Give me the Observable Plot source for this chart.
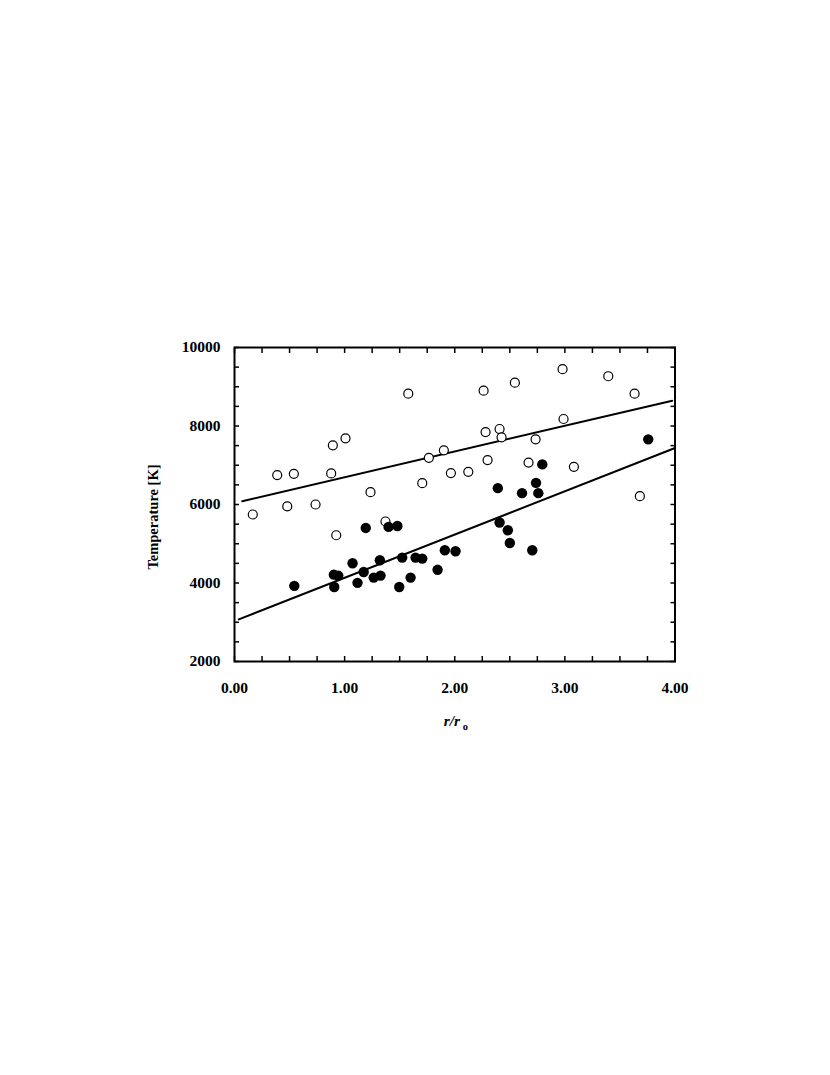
<!DOCTYPE html>
<html>
<head>
<meta charset="utf-8">
<script src="https://cdn.jsdelivr.net/npm/d3@7"></script>
<script src="https://cdn.jsdelivr.net/npm/@observablehq/plot@0.6"></script>
<style>
  html, body { margin: 0; padding: 0; background: #fff; }
  svg { display: block; }
</style>
</head>
<body>
<div id="chart"></div>
<script>
// Open circles (upper series)
const openR = [0.166,0.388,0.539,0.479,0.736,0.878,0.893,1.008,0.924,1.235,1.371,1.578,1.765,1.901,1.705,1.965,2.123,2.262,2.280,2.407,2.425,2.298,2.546,2.670,2.734,2.979,2.988,3.082,3.394,3.633,3.681];
const openT = [5745,6749,6782,5950,6000,6792,7507,7686,5217,6315,5567,8824,7190,7379,6544,6800,6833,8901,7846,7923,7711,7132,9105,7068,7660,9447,8178,6961,9268,8824,6212];
// Filled circles (lower series)
const fillR = [0.543,0.902,0.942,0.906,1.072,1.117,1.173,1.264,1.320,1.326,1.496,1.192,1.399,1.479,1.523,1.599,1.644,1.705,1.844,1.910,2.007,2.391,2.407,2.482,2.500,2.611,2.704,2.738,2.759,2.795,3.757];
const fillT = [3928,4213,4188,3897,4502,4004,4280,4137,4579,4188,3897,5403,5429,5452,4647,4137,4647,4622,4336,4834,4808,6417,5541,5344,5020,6289,4834,6552,6289,7022,7660];
// Fitted lines (end points)
const upperLineR = [0.07, 3.975];
const upperLineT = [6085, 8645];
const lowerLineR = [0.039, 4.0];
const lowerLineT = [3072, 7440];
// Ticks
const xLabelTicks = [0, 1, 2, 3, 4];
const xMinorTicks = d3.range(0, 4.001, 0.25);
const yLabelTicks = [2000, 4000, 6000, 8000, 10000];
const yMinorTicks = d3.range(2000, 10001, 500);
const yTitle = "Temperature [K]";
const xTitleMain = "r/r";
const xTitleSub = "o";

const openData = openR.map((r, i) => ({r, t: openT[i]}));
const fillData = fillR.map((r, i) => ({r, t: fillT[i]}));
const upperLine = upperLineR.map((r, i) => ({r, t: upperLineT[i]}));
const lowerLine = lowerLineR.map((r, i) => ({r, t: lowerLineT[i]}));

const font = "'Liberation Serif', 'Times New Roman', serif";

const chart = Plot.plot({
  width: 830,
  height: 1075,
  marginLeft: 234,
  marginRight: 155.5,
  marginTop: 347,
  marginBottom: 414,
  style: {fontFamily: font, fontSize: "15.5px", fontWeight: "bold", color: "#000", background: "#fff"},
  x: {domain: [0, 4]},
  y: {domain: [2000, 10000]},
  marks: [
    // inward ticks
    Plot.axisX(xMinorTicks, {anchor: "bottom", tickSize: -5, text: null, strokeWidth: 1.5, label: null}),
    Plot.axisX(xMinorTicks, {anchor: "top", tickSize: -5, text: null, strokeWidth: 1.5, label: null}),
    Plot.axisY(yMinorTicks, {anchor: "left", tickSize: -5, text: null, strokeWidth: 1.5, label: null}),
    Plot.axisY(yMinorTicks, {anchor: "right", tickSize: -5, text: null, strokeWidth: 1.5, label: null}),
    // labels
    Plot.axisX(xLabelTicks, {anchor: "bottom", tickSize: 0, tickPadding: 20, tickFormat: d3.format(".2f"), label: null, fontSize: 15.5, fontWeight: "bold", fill: "#000"}),
    Plot.axisY(yLabelTicks, {anchor: "left", tickSize: 0, tickPadding: 14, tickFormat: d => String(d), label: null, fontSize: 15.5, fontWeight: "bold", fill: "#000"}),
    Plot.frame({stroke: "#000", strokeWidth: 2}),
    Plot.line(upperLine, {x: "r", y: "t", stroke: "#000", strokeWidth: 2}),
    Plot.line(lowerLine, {x: "r", y: "t", stroke: "#000", strokeWidth: 2}),
    Plot.dot(openData, {x: "r", y: "t", r: 4.5, stroke: "#000", strokeWidth: 1.2, fill: "#fff"}),
    Plot.dot(fillData, {x: "r", y: "t", r: 5.2, fill: "#000", stroke: "none"}),
    Plot.text([yTitle], {frameAnchor: "left", rotate: -90, dx: -81, dy: 12.5, fontSize: 14.5, fontWeight: "bold", lineAnchor: "middle", textAnchor: "middle", fill: "#000"}),
    Plot.text([xTitleMain], {frameAnchor: "bottom", dx: 5.3, dy: 64, fontSize: 15.5, fontWeight: "bold", fontStyle: "italic", textAnchor: "end", lineAnchor: "bottom", fill: "#000"}),
    Plot.text([xTitleSub], {frameAnchor: "bottom", dx: 8, dy: 68, fontSize: 10.5, fontWeight: "bold", textAnchor: "start", lineAnchor: "bottom", fill: "#000"})
  ]
});
document.getElementById("chart").appendChild(chart);
</script>
</body>
</html>
